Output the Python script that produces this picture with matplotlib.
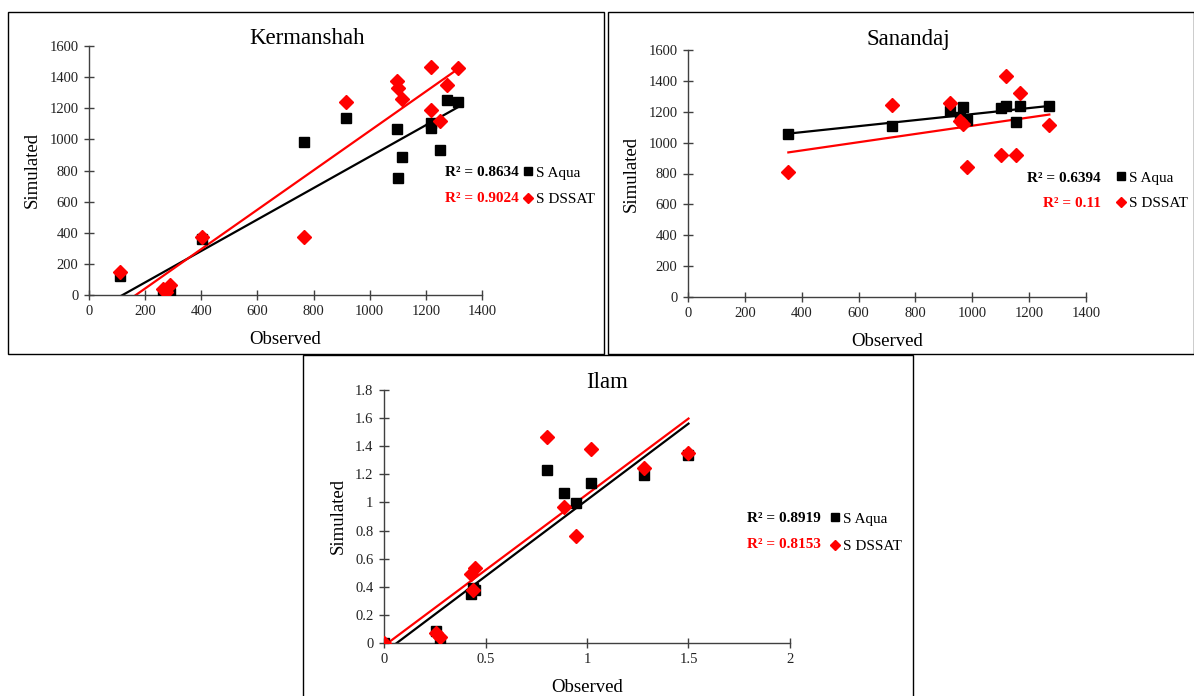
import numpy as np
import matplotlib
matplotlib.use("Agg")
import matplotlib.pyplot as plt
from matplotlib.patches import Rectangle

plt.rcParams['font.family'] = ['Liberation Serif', 'DejaVu Serif']

# ---------------- data ----------------
kerm_obs = [112, 264, 276, 288, 401, 765, 914, 1098, 1100, 1115, 1218, 1220, 1250, 1275, 1315]
kerm_aqua = [120, 10, 5, 10, 360, 980, 1140, 1065, 750, 885, 1105, 1075, 930, 1250, 1240]
kerm_dssat = [150, 37, 22, 62, 370, 370, 1240, 1375, 1333, 1262, 1462, 1191, 1116, 1348, 1456]
kerm_r2 = ["R² = 0.8634", "R² = 0.9024"]

sanan_obs = [353, 719, 920, 958, 966, 980, 1100, 1118, 1153, 1167, 1271]
sanan_aqua = [1055, 1110, 1205, 1166, 1229, 1146, 1222, 1236, 1132, 1236, 1238]
sanan_dssat = [810, 1244, 1255, 1143, 1120, 843, 920, 1434, 920, 1322, 1115]
sanan_r2 = ["R² = 0.6394", "R² = 0.11"]

ilam_obs = [0, 0.257, 0.276, 0.431, 0.439, 0.447, 0.803, 0.886, 0.945, 1.02, 1.28, 1.5]
ilam_aqua = [0, 0.088, 0.0, 0.35, 0.39, 0.38, 1.233, 1.065, 0.996, 1.136, 1.198, 1.34]
ilam_dssat = [0, 0.071, 0.045, 0.489, 0.375, 0.536, 1.464, 0.966, 0.764, 1.383, 1.243, 1.35]
ilam_r2 = ["R² = 0.8919", "R² = 0.8153"]

series_names = ["S Aqua", "S DSSAT"]

W, H = 1194, 696
fig = plt.figure(figsize=(W / 100, H / 100), dpi=100)

AX_COL = '#404040'


def fx(x):
    return x / W


def fy(y):
    return 1 - y / H


def add_box(x0, y0, x1, y1):
    fig.patches.append(Rectangle((fx(x0), fy(y1)), fx(x1 - x0), (y1 - y0) / H,
                                 transform=fig.transFigure, fill=False,
                                 edgecolor='black', linewidth=1.0, zorder=0))


def make_axes(x0, y0, x1, y1):
    ax = fig.add_axes([fx(x0), fy(y1), fx(x1 - x0), (y1 - y0) / H])
    ax.patch.set_alpha(0)
    for s in ['top', 'right']:
        ax.spines[s].set_visible(False)
    for s in ['left', 'bottom']:
        ax.spines[s].set_color(AX_COL)
        ax.spines[s].set_linewidth(1.0)
    ax.tick_params(direction='inout', length=7, width=1.0, color=AX_COL,
                   labelsize=10.5, labelcolor='#222222', pad=4)
    return ax


def panel(ax, obs, aqua, dssat, xlim, ylim, xticks, yticks):
    obs = np.array(obs, float)
    aq = np.array(aqua, float)
    ds = np.array(dssat, float)
    xs = np.array([obs.min(), obs.max()])
    pa = np.polyfit(obs, aq, 1)
    pd = np.polyfit(obs, ds, 1)
    h1, = ax.plot(obs, aq, 's', color='black', ms=7.5, ls='none', zorder=3,
                  label=series_names[0])
    h2, = ax.plot(obs, ds, 'D', color='#ff0000', ms=7, ls='none', zorder=4,
                  label=series_names[1])
    ax.plot(xs, np.polyval(pa, xs), color='black', lw=1.6, zorder=2)
    ax.plot(xs, np.polyval(pd, xs), color='#ff0000', lw=1.6, zorder=2)
    ax.set_xlim(*xlim)
    ax.set_ylim(*ylim)
    ax.set_xticks(xticks)
    ax.set_yticks(yticks)
    return h1, h2


def annotate(ax, handles, r2, rx, ry1, ry2, lx, ly, spacing):
    fig.text(fx(rx), fy(ry1), r2[0], ha='right', va='center', fontsize=11,
             fontweight='bold', color='black')
    fig.text(fx(rx), fy(ry2), r2[1], ha='right', va='center', fontsize=11,
             fontweight='bold', color='#ff0000')
    ax.legend(handles=list(handles), loc='upper left', bbox_to_anchor=(fx(lx), fy(ly)),
              bbox_transform=fig.transFigure, frameon=False, fontsize=11,
              handlelength=0.5, handletextpad=0.3, labelspacing=spacing,
              markerscale=0.8, borderpad=0, borderaxespad=0)


# ---------------- Kermanshah ----------------
add_box(8, 12, 604, 354)
ax1 = make_axes(89, 46, 482, 295)
h = panel(ax1, kerm_obs, kerm_aqua, kerm_dssat, (0, 1400), (0, 1600),
          range(0, 1401, 200), range(0, 1601, 200))
ax1.set_xlabel("Observed", fontsize=13.5, labelpad=9)
ax1.set_ylabel("Simulated", fontsize=13.5, labelpad=6)
fig.text(fx(307), fy(39), "Kermanshah", ha='center', va='center', fontsize=16.5)
annotate(ax1, h, kerm_r2, 519, 172, 198, 524, 166, 0.85)

# ---------------- Sanandaj ----------------
add_box(608, 12, 1194, 354)
ax2 = make_axes(688, 50, 1086, 297)
h = panel(ax2, sanan_obs, sanan_aqua, sanan_dssat, (0, 1400), (0, 1600),
          range(0, 1401, 200), range(0, 1601, 200))
ax2.set_xlabel("Observed", fontsize=13.5, labelpad=9)
ax2.set_ylabel("Simulated", fontsize=13.5, labelpad=6)
fig.text(fx(908), fy(40), "Sanandaj", ha='center', va='center', fontsize=16.5)
annotate(ax2, h, sanan_r2, 1101, 179, 203, 1117, 171, 0.75)

# ---------------- Ilam ----------------
add_box(303, 355, 913, 700)
ax3 = make_axes(384, 390, 790, 643)
h = panel(ax3, ilam_obs, ilam_aqua, ilam_dssat, (0, 2), (0, 1.8),
          [0, 0.5, 1, 1.5, 2], [0, 0.2, 0.4, 0.6, 0.8, 1, 1.2, 1.4, 1.6, 1.8])
ax3.set_xticklabels(["0", "0.5", "1", "1.5", "2"])
ax3.set_yticklabels(["0", "0.2", "0.4", "0.6", "0.8", "1", "1.2", "1.4", "1.6", "1.8"])
ax3.set_xlabel("Observed", fontsize=13.5, labelpad=9)
ax3.set_ylabel("Simulated", fontsize=13.5, labelpad=6)
fig.text(fx(607), fy(382), "Ilam", ha='center', va='center', fontsize=16.5)
annotate(ax3, h, ilam_r2, 821, 518, 545, 831, 512, 0.9)

fig.savefig("out.png", dpi=100)
